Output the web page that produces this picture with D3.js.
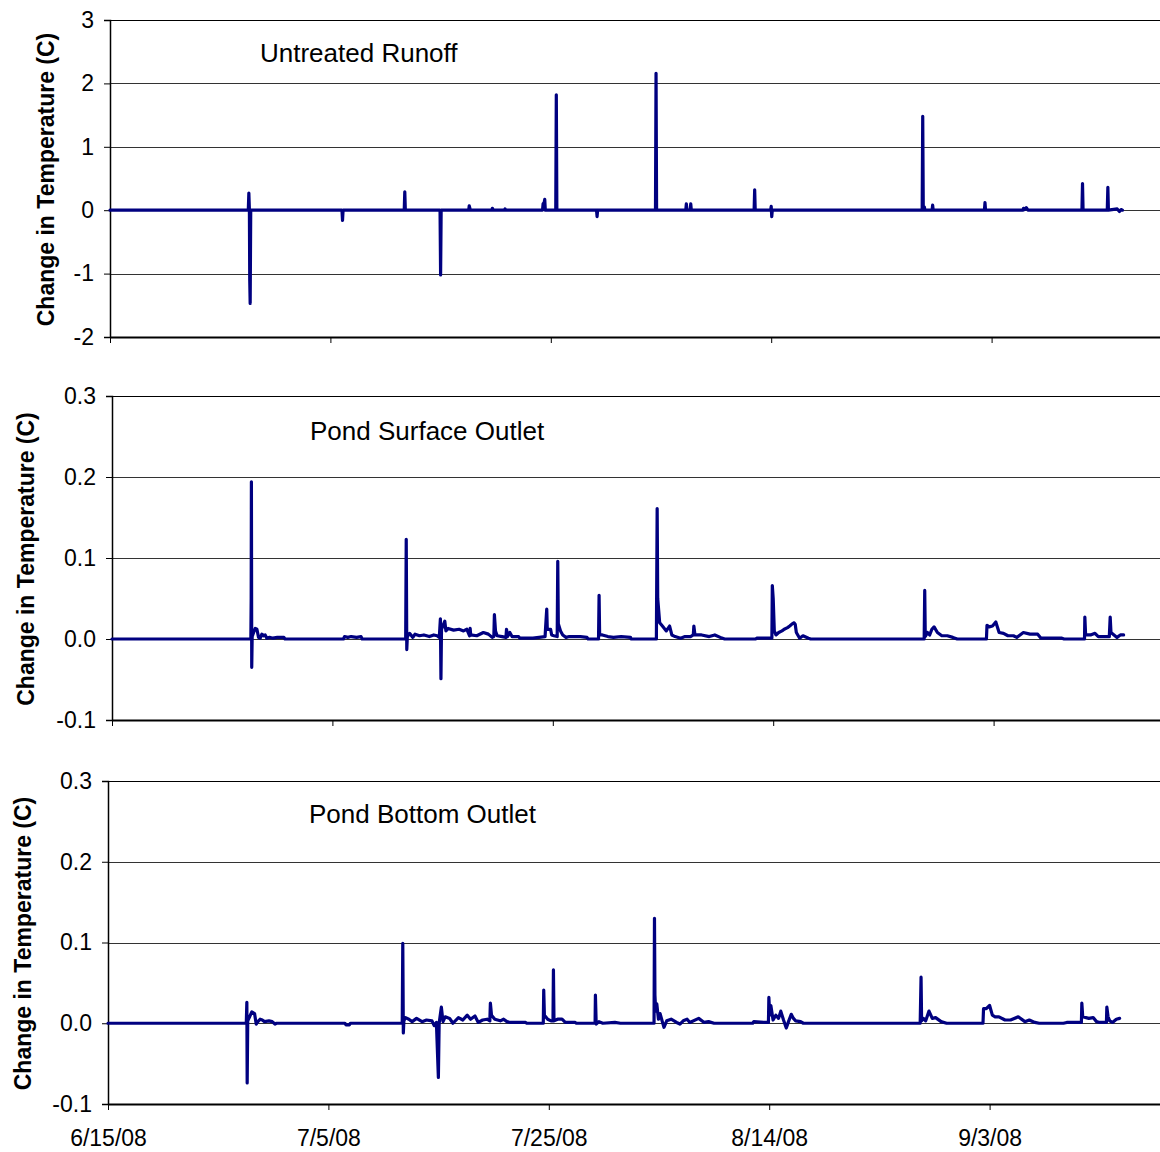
<!DOCTYPE html>
<html>
<head>
<meta charset="utf-8">
<script src="https://cdn.jsdelivr.net/npm/d3@7"></script>
<style>
  html, body { margin: 0; padding: 0; background: #fff; }
  svg { display: block; font-family: "Liberation Sans", Arial, sans-serif; }
</style>
</head>
<body>
<svg id="chart" width="1160" height="1152"></svg>
<script>
// ---------- DATA (day offset from 6/15/08, change in temperature °C) ----------
const startDate = "2008-06-15";
const dateTicks = ["6/15/08", "7/5/08", "7/25/08", "8/14/08", "9/3/08"];
const panelTitles = ["Untreated Runoff", "Pond Surface Outlet", "Pond Bottom Outlet"];
const yTicksRunoff = [-2, -1, 0, 1, 2, 3];
const yTicksPond = [-0.1, 0.0, 0.1, 0.2, 0.3];

const runoff = [
  [0,0],[12.55,0],[12.6,0.27],[12.65,0],[12.68,-1.1],[12.72,-1.47],[12.77,0],
  [21.05,0],[21.1,-0.16],[21.15,0],
  [26.7,0],[26.75,0.29],[26.8,0],
  [29.95,0],[30.0,-1.02],[30.05,0],
  [32.55,0],[32.6,0.07],[32.7,0],
  [34.65,0],[34.7,0.03],[34.8,0],
  [35.8,0],[35.85,0.02],[35.9,0],
  [39.25,0],[39.3,0.1],[39.4,0.12],[39.45,0.17],[39.5,0],
  [40.45,0],[40.5,1.82],[40.55,0],
  [44.15,0],[44.2,-0.1],[44.25,0],
  [49.5,0],[49.55,2.16],[49.6,0],
  [52.25,0],[52.3,0.1],[52.35,0],[52.65,0],[52.7,0.1],[52.75,0],
  [58.45,0],[58.5,0.32],[58.55,0],
  [59.95,0],[60.0,0.06],[60.05,-0.1],[60.1,0],
  [73.7,0],[73.75,1.48],[73.8,0],[73.9,0.05],[73.95,0],
  [74.6,0],[74.65,0.08],[74.7,0],
  [79.35,0],[79.4,0.12],[79.45,0],
  [82.85,0],[82.9,0.03],[83.0,0.01],[83.15,0.04],[83.3,0],
  [88.15,0],[88.2,0.02],[88.25,0.42],[88.3,0],
  [90.45,0],[90.5,0.02],[90.55,0.36],[90.6,0],
  [91.4,0.02],[91.6,-0.02],[91.75,0.01],[91.87,0]
];

const surfaceOutlet = [
  [0,0],[12.6,0],[12.63,0.05],[12.65,0.194],[12.68,-0.035],[12.72,0.003],[12.85,0.008],
  [13.0,0.013],[13.15,0.012],[13.3,0.002],[13.45,0.001],[13.6,0.006],[13.75,0.004],
  [13.9,0.005],[14.05,0.001],[14.3,0.002],[14.6,0.001],[15.0,0.002],[15.6,0.002],[15.7,0],
  [21.0,0],[21.1,0.003],[21.4,0.002],[21.7,0.003],[22.2,0.002],[22.6,0.003],[22.7,0],
  [26.65,0],[26.7,0.123],[26.75,-0.013],[26.8,0.003],
  [27.0,0.007],[27.3,0.002],[27.5,0.006],[27.9,0.004],[28.3,0.005],[28.8,0.003],[29.2,0.005],[29.5,0.004],[29.7,0.002],
  [29.8,0.025],[29.85,-0.049],[29.9,0.012],
  [30.2,0.022],[30.3,0.01],[30.5,0.013],[31.0,0.011],[31.5,0.012],[31.9,0.01],[32.2,0.012],
  [32.45,0.004],[32.5,0.013],[32.55,0.005],[33.1,0.004],[33.7,0.008],[34.15,0.006],[34.5,0.002],
  [34.65,0.003],[34.7,0.03],[34.8,0.01],[34.95,0.004],
  [35.4,0.003],[35.75,0.002],[35.8,0.012],[35.9,0.003],[36.1,0.008],[36.3,0.003],[36.9,0.003],[37.0,0.001],[38.2,0.001],
  [39.3,0.003],[39.35,0.015],[39.45,0.037],[39.5,0.012],[39.8,0.012],[39.9,0.005],[40.1,0.004],
  [40.4,0.003],[40.45,0.096],[40.5,0.019],[40.7,0.01],[40.9,0.005],[41.2,0.002],[41.5,0.003],[42.5,0.003],[43.1,0.002],[43.2,0],
  [44.15,0],[44.2,0.054],[44.25,0.005],[44.5,0.005],[45.0,0.003],[45.5,0.002],[46.2,0.003],[47.05,0.002],[47.1,0],
  [49.4,0],[49.47,0.161],[49.52,0.05],[49.7,0.02],[50.0,0.015],[50.3,0.01],[50.6,0.016],[50.8,0.005],
  [51.1,0.003],[51.6,0.001],[52.0,0.003],[52.5,0.003],[52.75,0.005],[52.8,0.016],[52.9,0.005],
  [53.5,0.005],[54.2,0.003],[54.7,0.005],[55.2,0.002],[55.6,0],
  [58.4,0],[58.5,0.001],[59.88,0.001],
  [59.92,0.066],[60.0,0.05],[60.1,0.01],[60.25,0.005],[60.5,0.008],[60.8,0.01],[61.0,0.012],[61.3,0.014],[61.5,0.016],[61.75,0.019],[61.9,0.02],
  [62.0,0.018],[62.1,0.008],[62.4,0.001],[62.7,0.004],[63.2,0.001],[63.4,0],
  [73.7,0],[73.75,0.06],[73.8,0.003],[74.0,0.008],[74.2,0.005],[74.4,0.012],[74.6,0.015],[74.9,0.008],
  [75.3,0.004],[75.8,0.004],[76.3,0.002],[76.7,0],
  [79.35,0],[79.4,0.017],[79.6,0.015],[79.9,0.016],[80.2,0.021],[80.5,0.008],[80.9,0.007],[81.3,0.004],
  [81.8,0.004],[82.1,0.002],[82.7,0.008],[83.3,0.006],[84.0,0.006],[84.3,0.001],[86.2,0.001],[86.4,0],
  [88.25,0],[88.28,0.027],[88.35,0.005],[88.8,0.005],[89.2,0.007],[89.5,0.003],
  [90.5,0.003],[90.58,0.027],[90.65,0.008],[91.2,0.002],[91.5,0.005],[91.8,0.005]
];

const bottomOutlet = [
  [0,0],[12.55,0],[12.6,0.026],[12.63,-0.074],[12.68,0.003],[12.85,0.008],[13.05,0.014],[13.3,0.012],
  [13.45,-0.001],[13.6,0.002],[13.8,0.005],[14.0,0.004],[14.2,0.002],[14.6,0.003],[14.9,0.002],[15.15,-0.001],[15.3,0],
  [21.5,0],[21.6,-0.002],[21.9,-0.002],[22.0,0],
  [26.7,0],[26.75,0.099],[26.8,-0.012],[26.85,0.003],[27.0,0.007],[27.3,0.005],[27.6,0.002],[28.0,0.006],
  [28.5,0.002],[28.9,0.004],[29.4,0.003],[29.6,-0.003],[29.8,0.001],
  [29.98,-0.067],[30.05,0.0],[30.25,0.02],[30.4,0.002],[30.6,0.008],[31.0,0.006],[31.3,0.0],[31.8,0.007],
  [32.2,0.004],[32.6,0.01],[32.9,0.005],[33.3,0.009],[33.6,0.001],[34.0,0.004],[34.4,0.005],
  [34.65,0.003],[34.7,0.025],[34.8,0.01],[35.1,0.005],[35.6,0.003],[35.9,0.005],[36.2,0.002],[36.5,0.001],[37.9,0.001],[38.0,0],
  [39.5,0],[39.54,0.041],[39.6,0.01],[39.9,0.005],[40.2,0.003],
  [40.38,0.003],[40.42,0.066],[40.47,0.003],[40.8,0.005],[41.2,0.005],[41.5,0.001],[42.4,0.001],[42.5,0],
  [44.2,0],[44.23,0.035],[44.3,-0.001],[44.55,0.002],[44.9,0],[46.0,0.001],[46.5,0],
  [49.55,0],[49.59,0.13],[49.63,0.035],[49.7,0.015],[49.8,0.024],[49.95,0.005],[50.1,0.012],[50.3,0.002],
  [50.45,-0.005],[50.7,0.003],[51.1,0.005],[51.6,0.001],[51.9,-0.001],[52.2,0.003],[52.55,0.005],[52.8,0.001],
  [53.6,0.006],[54.1,0.001],[54.5,0.002],[55.0,0],
  [58.5,0],[58.6,0.002],[59.6,0.001],[59.93,0.001],
  [59.97,0.032],[60.05,0.01],[60.15,0.022],[60.35,0.004],[60.6,0.01],[60.85,0.006],[61.05,0.015],[61.3,0.004],
  [61.55,-0.006],[61.75,0.002],[62.0,0.011],[62.2,0.006],[62.4,0.003],[62.85,0.002],[63.1,0],
  [73.7,0],[73.78,0.057],[73.83,0.003],[74.0,0.006],[74.2,0.003],[74.5,0.015],[74.8,0.006],[75.1,0.007],[75.6,0.002],[76.1,0],
  [79.4,0],[79.45,0.018],[79.7,0.018],[80.0,0.022],[80.25,0.01],[80.5,0.008],[80.85,0.008],[81.4,0.004],
  [81.9,0.004],[82.6,0.008],[83.2,0.002],[83.6,0.004],[84.1,0.001],[84.5,0],[86.7,0],[87.0,0.001],
  [88.33,0.001],[88.37,0.025],[88.45,0.008],[89.0,0.006],[89.4,0.007],[89.7,0.002],[90.0,0.001],
  [90.6,0.001],[90.64,0.02],[90.75,0.008],[90.9,0.003],[91.15,0.001],[91.5,0.005],[91.8,0.006]
];

// ---------- LAYOUT ----------
const hyphen = f => d => f(d).replace("\u2212", "-");
const panels = [
  { data: runoff, title: panelTitles[0], left: 110, top: 20, bottom: 337, domain: [-2, 3], ticks: yTicksRunoff,
    fmt: hyphen(d3.format("d")), titleX: 260, titleY: 62, yLabelX: 46, showDates: false },
  { data: surfaceOutlet, title: panelTitles[1], left: 112, top: 396, bottom: 720, domain: [-0.1, 0.3], ticks: yTicksPond,
    fmt: hyphen(d3.format(".1f")), titleX: 310, titleY: 440, yLabelX: 26, showDates: false },
  { data: bottomOutlet, title: panelTitles[2], left: 108, top: 781, bottom: 1104, domain: [-0.1, 0.3], ticks: yTicksPond,
    fmt: hyphen(d3.format(".1f")), titleX: 309, titleY: 823, yLabelX: 23, showDates: true }
];

const pxPerDay = 11.02;
const t0 = d3.timeParse("%Y-%m-%d")(startDate);
const dayMs = 86400000;
const tickDates = dateTicks.map(s => d3.timeParse("%-m/%-d/%y")(s));
const svg = d3.select("#chart");

panels.forEach(p => {
  const endDate = new Date(t0.getTime() + 100 * dayMs);
  const x = d3.scaleTime().domain([t0, endDate]).range([p.left, p.left + 100 * pxPerDay]);
  const y = d3.scaleLinear().domain(p.domain).range([p.bottom, p.top]);
  const g = svg.append("g");

  // gridlines
  g.append("g").selectAll("line")
    .data(p.ticks.filter(t => t !== p.domain[0]))
    .join("line")
    .attr("x1", p.left).attr("x2", 1160)
    .attr("y1", d => Math.round(y(d)) + 0.5).attr("y2", d => Math.round(y(d)) + 0.5)
    .attr("stroke", d => d === p.domain[1] ? "#000" : "#333")
    .attr("stroke-width", 1.1);

  // y axis
  const ya = g.append("g").attr("transform", `translate(${p.left},0)`)
    .call(d3.axisLeft(y).tickValues(p.ticks).tickFormat(p.fmt).tickSize(6).tickPadding(10));
  ya.select(".domain").attr("stroke", "#000").attr("stroke-width", 1.5);
  ya.selectAll(".tick line").attr("stroke", "#000");
  ya.selectAll("text").attr("font-size", 23).attr("fill", "#000")
    .attr("font-family", "'Liberation Sans', Arial, sans-serif");

  // x axis
  const xa = g.append("g").attr("transform", `translate(0,${p.bottom})`)
    .call(d3.axisBottom(x).tickValues(tickDates)
      .tickFormat(p.showDates ? d3.timeFormat("%-m/%-d/%y") : () => "")
      .tickSize(6).tickPadding(20).tickSizeOuter(0));
  xa.select(".domain").attr("stroke", "#000").attr("stroke-width", 2);
  xa.selectAll(".tick line").attr("stroke", "#000");
  xa.selectAll("text").attr("font-size", 23).attr("fill", "#000")
    .attr("font-family", "'Liberation Sans', Arial, sans-serif");

  // data line
  const line = d3.line()
    .x(d => x(new Date(t0.getTime() + d[0] * dayMs)))
    .y(d => y(d[1]));
  g.append("path").datum(p.data)
    .attr("d", line)
    .attr("fill", "none")
    .attr("stroke", "#000080")
    .attr("stroke-width", 3.2)
    .attr("stroke-linejoin", "round")
    .attr("stroke-linecap", "round");

  // panel title
  g.append("text").attr("x", p.titleX).attr("y", p.titleY)
    .attr("font-size", 26).attr("fill", "#000").text(p.title);

  // y-axis label
  g.append("text")
    .attr("transform", `translate(${p.yLabelX + 8},${(p.top + p.bottom) / 2 + 1}) rotate(-90)`)
    .attr("text-anchor", "middle")
    .attr("font-size", 23).attr("font-weight", "bold").attr("fill", "#000")
    .text("Change in Temperature (C)");
});
</script>
</body>
</html>
